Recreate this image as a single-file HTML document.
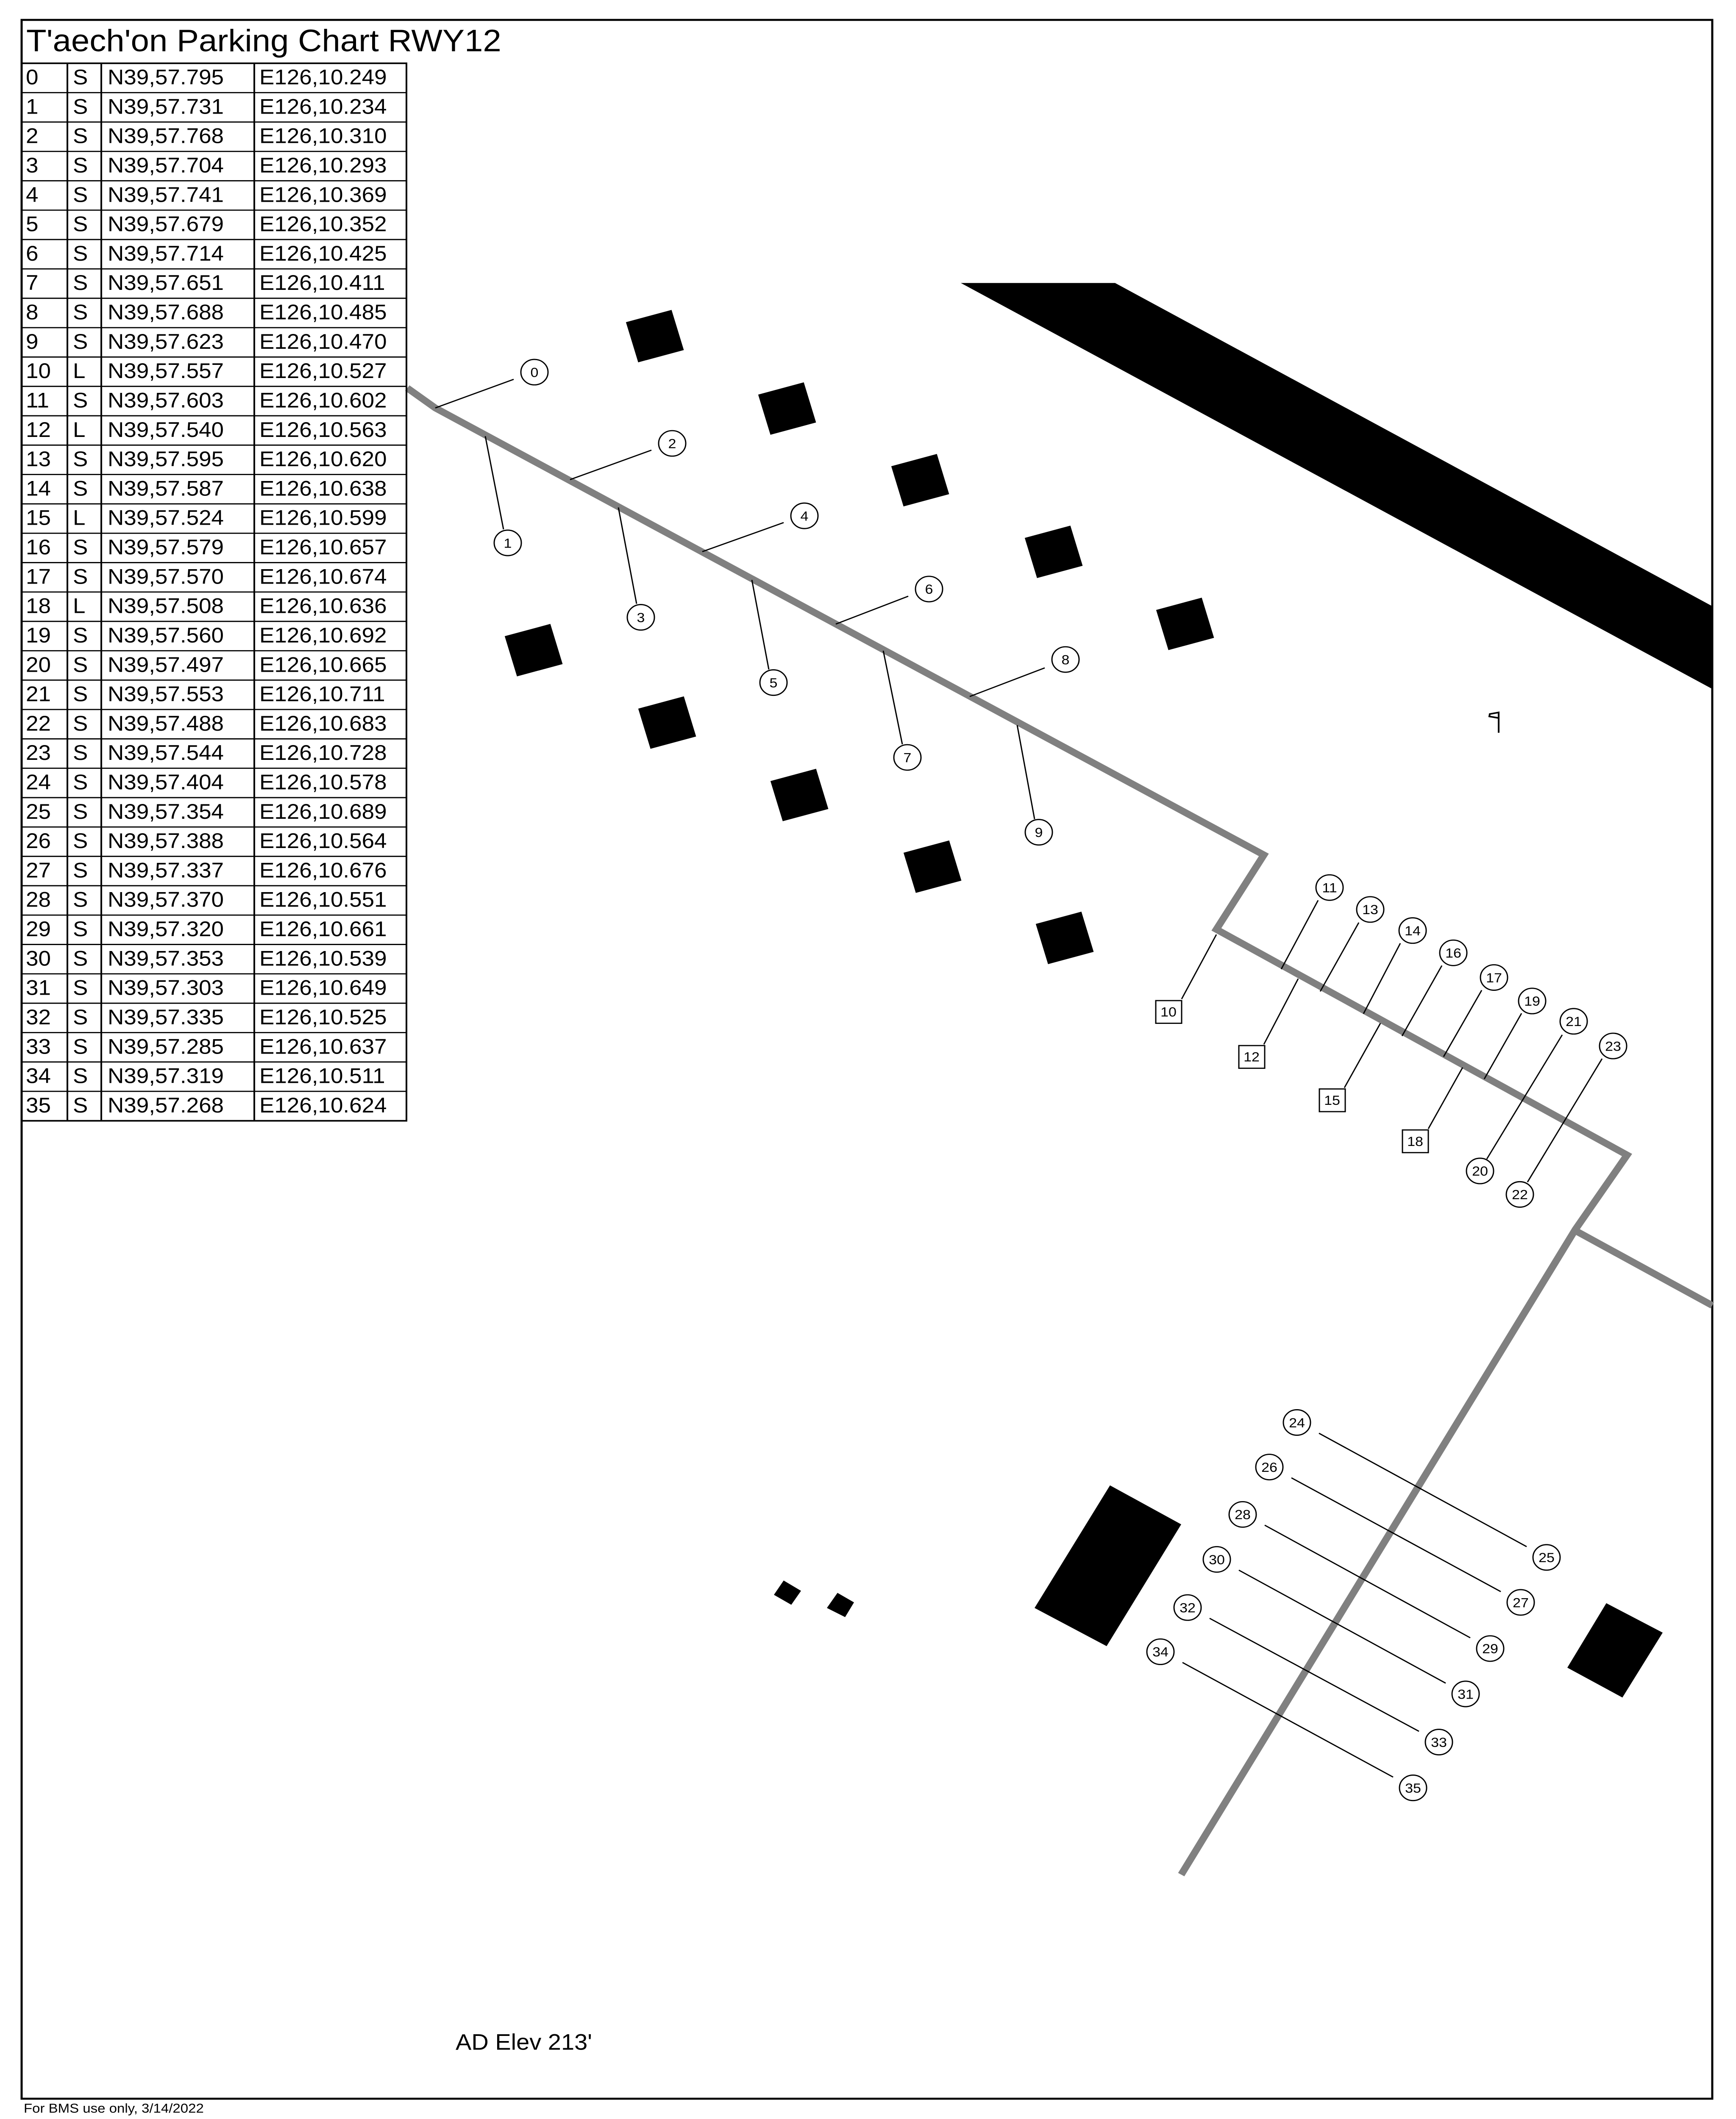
<!DOCTYPE html>
<html><head><meta charset="utf-8"><style>
html,body{margin:0;padding:0;background:#fff;width:100%;height:100%;overflow:hidden}
svg{display:block;position:absolute;left:0;top:0;width:100vw;height:100vh}
text{font-family:"Liberation Sans",sans-serif;fill:#000}
.t{font-size:53px}
.c{font-size:34px;text-anchor:middle}
</style></head><body>
<svg viewBox="0 0 4096 5324" preserveAspectRatio="none" xmlns="http://www.w3.org/2000/svg">
<rect x="51" y="50" width="3989" height="5223" fill="none" stroke="#000" stroke-width="5"/>
<text x="62" y="129" style="font-size:78px">T'aech'on Parking Chart RWY12</text>

<polygon points="2267,711 2631,711 4040,1523 4040,1731" fill="#000"/>

<polyline points="961,975 1027,1025 2982,2148 2870,2335 3839,2902 3717,3089 2787,4710" fill="none" stroke="#808080" stroke-width="17"/>
<line x1="3717" y1="3092" x2="4040" y2="3280" stroke="#808080" stroke-width="17"/>

<g fill="#000">
<rect x="-56" y="-52" width="112" height="105" transform="translate(1545,844) rotate(-16)"/>
<rect x="-56" y="-52" width="112" height="105" transform="translate(1857,1026) rotate(-16)"/>
<rect x="-56" y="-52" width="112" height="105" transform="translate(2171,1206) rotate(-16)"/>
<rect x="-56" y="-52" width="112" height="105" transform="translate(2486,1386) rotate(-16)"/>
<rect x="-56" y="-52" width="112" height="105" transform="translate(2796,1567) rotate(-16)"/>
<rect x="-56" y="-52" width="112" height="105" transform="translate(1259,1633) rotate(-16)"/>
<rect x="-56" y="-52" width="112" height="105" transform="translate(1574,1815) rotate(-16)"/>
<rect x="-56" y="-52" width="112" height="105" transform="translate(1886,1997) rotate(-16)"/>
<rect x="-56" y="-52" width="112" height="105" transform="translate(2200,2177) rotate(-16)"/>
<rect x="-56" y="-52" width="112" height="105" transform="translate(2512,2356) rotate(-16)"/>
<polygon points="2619,3732 2787,3830 2611,4136 2441,4040"/>
<polygon points="3790,4028 3923,4102 3828,4265 3698,4190"/>
<polygon points="1849,3971 1890,3997 1867,4032 1826,4007"/>
<polygon points="1976,4002 2015,4026 1994,4063 1951,4040"/>
</g>

<g stroke="#000" stroke-width="4" fill="none">
<line x1="3536" y1="1789" x2="3536" y2="1841"/>
<polygon points="3536,1790 3515,1794 3514,1800 3536,1804"/>
</g>

<g stroke="#000" stroke-width="3">
<line x1="1027" y1="1025" x2="1212" y2="953"/>
<line x1="1145" y1="1096" x2="1188" y2="1330"/>
<line x1="1345" y1="1205" x2="1537" y2="1131"/>
<line x1="1459" y1="1275" x2="1502" y2="1517"/>
<line x1="1657" y1="1386" x2="1849" y2="1313"/>
<line x1="1774" y1="1457" x2="1814" y2="1682"/>
<line x1="1972" y1="1568" x2="2143" y2="1498"/>
<line x1="2084" y1="1635" x2="2129" y2="1870"/>
<line x1="2288" y1="1750" x2="2465" y2="1678"/>
<line x1="2400" y1="1822" x2="2441" y2="2058"/>
<line x1="2788" y1="2510" x2="2870" y2="2348"/>
<line x1="2982" y1="2624" x2="3063" y2="2459"/>
<line x1="3172" y1="2733" x2="3257" y2="2571"/>
<line x1="3370" y1="2836" x2="3451" y2="2682"/>
<line x1="3110" y1="2262" x2="3023" y2="2435"/>
<line x1="3206" y1="2318" x2="3115" y2="2491"/>
<line x1="3304" y1="2370" x2="3217" y2="2547"/>
<line x1="3402" y1="2426" x2="3308" y2="2603"/>
<line x1="3496" y1="2488" x2="3406" y2="2655"/>
<line x1="3590" y1="2546" x2="3502" y2="2711"/>
<line x1="3686" y1="2600" x2="3508" y2="2912"/>
<line x1="3780" y1="2660" x2="3604" y2="2970"/>
<line x1="3112" y1="3601" x2="3602" y2="3886"/>
<line x1="3047" y1="3713" x2="3541" y2="3999"/>
<line x1="2984" y1="3832" x2="3469" y2="4115"/>
<line x1="2923" y1="3945" x2="3411" y2="4229"/>
<line x1="2854" y1="4066" x2="3348" y2="4350"/>
<line x1="2790" y1="4177" x2="3287" y2="4465"/>
</g>

<g fill="#fff" stroke="#000" stroke-width="3">
<circle cx="1261" cy="935" r="32"/><circle cx="1198" cy="1364" r="32"/>
<circle cx="1586" cy="1114" r="32"/><circle cx="1512" cy="1551" r="32"/>
<circle cx="1898" cy="1296" r="32"/><circle cx="1825" cy="1715" r="32"/>
<circle cx="2192" cy="1480" r="32"/><circle cx="2141" cy="1903" r="32"/>
<circle cx="2514" cy="1657" r="32"/><circle cx="2451" cy="2091" r="32"/>
<circle cx="3137" cy="2230" r="32"/><circle cx="3233" cy="2285" r="32"/>
<circle cx="3333" cy="2338" r="32"/><circle cx="3429" cy="2394" r="32"/>
<circle cx="3525" cy="2456" r="32"/><circle cx="3615" cy="2515" r="32"/>
<circle cx="3713" cy="2566" r="32"/><circle cx="3806" cy="2628" r="32"/>
<circle cx="3492" cy="2942" r="32"/><circle cx="3586" cy="3001" r="32"/>
<circle cx="3060" cy="3574" r="32"/><circle cx="2995" cy="3686" r="32"/>
<circle cx="2932" cy="3805" r="32"/><circle cx="2871" cy="3918" r="32"/>
<circle cx="2802" cy="4039" r="32"/><circle cx="2738" cy="4150" r="32"/>
<circle cx="3649" cy="3913" r="32"/><circle cx="3588" cy="4026" r="32"/>
<circle cx="3516" cy="4142" r="32"/><circle cx="3458" cy="4256" r="32"/>
<circle cx="3395" cy="4377" r="32"/><circle cx="3334" cy="4492" r="32"/>
<rect x="2727" y="2514" width="61" height="57"/>
<rect x="2923" y="2627" width="61" height="57"/>
<rect x="3113" y="2736" width="61" height="57"/>
<rect x="3309" y="2839" width="61" height="57"/>
</g>
<g>
<text class="c" x="1261" y="947">0</text><text class="c" x="1198" y="1376">1</text>
<text class="c" x="1586" y="1126">2</text><text class="c" x="1512" y="1563">3</text>
<text class="c" x="1898" y="1308">4</text><text class="c" x="1825" y="1727">5</text>
<text class="c" x="2192" y="1492">6</text><text class="c" x="2141" y="1915">7</text>
<text class="c" x="2514" y="1669">8</text><text class="c" x="2451" y="2103">9</text>
<text class="c" x="3137" y="2242">11</text><text class="c" x="3233" y="2297">13</text>
<text class="c" x="3333" y="2350">14</text><text class="c" x="3429" y="2406">16</text>
<text class="c" x="3525" y="2468">17</text><text class="c" x="3615" y="2527">19</text>
<text class="c" x="3713" y="2578">21</text><text class="c" x="3806" y="2640">23</text>
<text class="c" x="3492" y="2954">20</text><text class="c" x="3586" y="3013">22</text>
<text class="c" x="3060" y="3586">24</text><text class="c" x="2995" y="3698">26</text>
<text class="c" x="2932" y="3817">28</text><text class="c" x="2871" y="3930">30</text>
<text class="c" x="2802" y="4051">32</text><text class="c" x="2738" y="4162">34</text>
<text class="c" x="3649" y="3925">25</text><text class="c" x="3588" y="4038">27</text>
<text class="c" x="3516" y="4154">29</text><text class="c" x="3458" y="4268">31</text>
<text class="c" x="3395" y="4389">33</text><text class="c" x="3334" y="4504">35</text>
<text class="c" x="2757" y="2554">10</text><text class="c" x="2953" y="2667">12</text>
<text class="c" x="3143" y="2776">15</text><text class="c" x="3339" y="2879">18</text>
</g>

<g stroke="#000" stroke-width="4" fill="none">
<rect x="51" y="159" width="908" height="2657"/>
<line x1="159" y1="159" x2="159" y2="2816"/>
<line x1="239" y1="159" x2="239" y2="2816"/>
<line x1="600" y1="159" x2="600" y2="2816"/>
</g>
<g stroke="#000" stroke-width="3">
<line x1="51" y1="232.8" x2="959" y2="232.8"/><line x1="51" y1="306.6" x2="959" y2="306.6"/>
<line x1="51" y1="380.4" x2="959" y2="380.4"/><line x1="51" y1="454.2" x2="959" y2="454.2"/>
<line x1="51" y1="528" x2="959" y2="528"/><line x1="51" y1="601.8" x2="959" y2="601.8"/>
<line x1="51" y1="675.6" x2="959" y2="675.6"/><line x1="51" y1="749.4" x2="959" y2="749.4"/>
<line x1="51" y1="823.2" x2="959" y2="823.2"/><line x1="51" y1="897" x2="959" y2="897"/>
<line x1="51" y1="970.8" x2="959" y2="970.8"/><line x1="51" y1="1044.6" x2="959" y2="1044.6"/>
<line x1="51" y1="1118.4" x2="959" y2="1118.4"/><line x1="51" y1="1192.2" x2="959" y2="1192.2"/>
<line x1="51" y1="1266" x2="959" y2="1266"/><line x1="51" y1="1339.8" x2="959" y2="1339.8"/>
<line x1="51" y1="1413.6" x2="959" y2="1413.6"/><line x1="51" y1="1487.4" x2="959" y2="1487.4"/>
<line x1="51" y1="1561.2" x2="959" y2="1561.2"/><line x1="51" y1="1635" x2="959" y2="1635"/>
<line x1="51" y1="1708.8" x2="959" y2="1708.8"/><line x1="51" y1="1782.6" x2="959" y2="1782.6"/>
<line x1="51" y1="1856.4" x2="959" y2="1856.4"/><line x1="51" y1="1930.2" x2="959" y2="1930.2"/>
<line x1="51" y1="2004" x2="959" y2="2004"/><line x1="51" y1="2077.8" x2="959" y2="2077.8"/>
<line x1="51" y1="2151.6" x2="959" y2="2151.6"/><line x1="51" y1="2225.4" x2="959" y2="2225.4"/>
<line x1="51" y1="2299.2" x2="959" y2="2299.2"/><line x1="51" y1="2373" x2="959" y2="2373"/>
<line x1="51" y1="2446.8" x2="959" y2="2446.8"/><line x1="51" y1="2520.6" x2="959" y2="2520.6"/>
<line x1="51" y1="2594.4" x2="959" y2="2594.4"/><line x1="51" y1="2668.2" x2="959" y2="2668.2"/>
<line x1="51" y1="2742" x2="959" y2="2742"/>
</g>
<g>
<text class="t" y="212"><tspan x="61">0</tspan><tspan x="172">S</tspan><tspan x="254">N39,57.795</tspan><tspan x="612">E126,10.249</tspan></text>
<text class="t" y="285.8"><tspan x="61">1</tspan><tspan x="172">S</tspan><tspan x="254">N39,57.731</tspan><tspan x="612">E126,10.234</tspan></text>
<text class="t" y="359.6"><tspan x="61">2</tspan><tspan x="172">S</tspan><tspan x="254">N39,57.768</tspan><tspan x="612">E126,10.310</tspan></text>
<text class="t" y="433.4"><tspan x="61">3</tspan><tspan x="172">S</tspan><tspan x="254">N39,57.704</tspan><tspan x="612">E126,10.293</tspan></text>
<text class="t" y="507.2"><tspan x="61">4</tspan><tspan x="172">S</tspan><tspan x="254">N39,57.741</tspan><tspan x="612">E126,10.369</tspan></text>
<text class="t" y="581"><tspan x="61">5</tspan><tspan x="172">S</tspan><tspan x="254">N39,57.679</tspan><tspan x="612">E126,10.352</tspan></text>
<text class="t" y="654.8"><tspan x="61">6</tspan><tspan x="172">S</tspan><tspan x="254">N39,57.714</tspan><tspan x="612">E126,10.425</tspan></text>
<text class="t" y="728.6"><tspan x="61">7</tspan><tspan x="172">S</tspan><tspan x="254">N39,57.651</tspan><tspan x="612">E126,10.411</tspan></text>
<text class="t" y="802.4"><tspan x="61">8</tspan><tspan x="172">S</tspan><tspan x="254">N39,57.688</tspan><tspan x="612">E126,10.485</tspan></text>
<text class="t" y="876.2"><tspan x="61">9</tspan><tspan x="172">S</tspan><tspan x="254">N39,57.623</tspan><tspan x="612">E126,10.470</tspan></text>
<text class="t" y="950"><tspan x="61">10</tspan><tspan x="172">L</tspan><tspan x="254">N39,57.557</tspan><tspan x="612">E126,10.527</tspan></text>
<text class="t" y="1023.8"><tspan x="61">11</tspan><tspan x="172">S</tspan><tspan x="254">N39,57.603</tspan><tspan x="612">E126,10.602</tspan></text>
<text class="t" y="1097.6"><tspan x="61">12</tspan><tspan x="172">L</tspan><tspan x="254">N39,57.540</tspan><tspan x="612">E126,10.563</tspan></text>
<text class="t" y="1171.4"><tspan x="61">13</tspan><tspan x="172">S</tspan><tspan x="254">N39,57.595</tspan><tspan x="612">E126,10.620</tspan></text>
<text class="t" y="1245.2"><tspan x="61">14</tspan><tspan x="172">S</tspan><tspan x="254">N39,57.587</tspan><tspan x="612">E126,10.638</tspan></text>
<text class="t" y="1319"><tspan x="61">15</tspan><tspan x="172">L</tspan><tspan x="254">N39,57.524</tspan><tspan x="612">E126,10.599</tspan></text>
<text class="t" y="1392.8"><tspan x="61">16</tspan><tspan x="172">S</tspan><tspan x="254">N39,57.579</tspan><tspan x="612">E126,10.657</tspan></text>
<text class="t" y="1466.6"><tspan x="61">17</tspan><tspan x="172">S</tspan><tspan x="254">N39,57.570</tspan><tspan x="612">E126,10.674</tspan></text>
<text class="t" y="1540.4"><tspan x="61">18</tspan><tspan x="172">L</tspan><tspan x="254">N39,57.508</tspan><tspan x="612">E126,10.636</tspan></text>
<text class="t" y="1614.2"><tspan x="61">19</tspan><tspan x="172">S</tspan><tspan x="254">N39,57.560</tspan><tspan x="612">E126,10.692</tspan></text>
<text class="t" y="1688"><tspan x="61">20</tspan><tspan x="172">S</tspan><tspan x="254">N39,57.497</tspan><tspan x="612">E126,10.665</tspan></text>
<text class="t" y="1761.8"><tspan x="61">21</tspan><tspan x="172">S</tspan><tspan x="254">N39,57.553</tspan><tspan x="612">E126,10.711</tspan></text>
<text class="t" y="1835.6"><tspan x="61">22</tspan><tspan x="172">S</tspan><tspan x="254">N39,57.488</tspan><tspan x="612">E126,10.683</tspan></text>
<text class="t" y="1909.4"><tspan x="61">23</tspan><tspan x="172">S</tspan><tspan x="254">N39,57.544</tspan><tspan x="612">E126,10.728</tspan></text>
<text class="t" y="1983.2"><tspan x="61">24</tspan><tspan x="172">S</tspan><tspan x="254">N39,57.404</tspan><tspan x="612">E126,10.578</tspan></text>
<text class="t" y="2057"><tspan x="61">25</tspan><tspan x="172">S</tspan><tspan x="254">N39,57.354</tspan><tspan x="612">E126,10.689</tspan></text>
<text class="t" y="2130.8"><tspan x="61">26</tspan><tspan x="172">S</tspan><tspan x="254">N39,57.388</tspan><tspan x="612">E126,10.564</tspan></text>
<text class="t" y="2204.6"><tspan x="61">27</tspan><tspan x="172">S</tspan><tspan x="254">N39,57.337</tspan><tspan x="612">E126,10.676</tspan></text>
<text class="t" y="2278.4"><tspan x="61">28</tspan><tspan x="172">S</tspan><tspan x="254">N39,57.370</tspan><tspan x="612">E126,10.551</tspan></text>
<text class="t" y="2352.2"><tspan x="61">29</tspan><tspan x="172">S</tspan><tspan x="254">N39,57.320</tspan><tspan x="612">E126,10.661</tspan></text>
<text class="t" y="2426"><tspan x="61">30</tspan><tspan x="172">S</tspan><tspan x="254">N39,57.353</tspan><tspan x="612">E126,10.539</tspan></text>
<text class="t" y="2499.8"><tspan x="61">31</tspan><tspan x="172">S</tspan><tspan x="254">N39,57.303</tspan><tspan x="612">E126,10.649</tspan></text>
<text class="t" y="2573.6"><tspan x="61">32</tspan><tspan x="172">S</tspan><tspan x="254">N39,57.335</tspan><tspan x="612">E126,10.525</tspan></text>
<text class="t" y="2647.4"><tspan x="61">33</tspan><tspan x="172">S</tspan><tspan x="254">N39,57.285</tspan><tspan x="612">E126,10.637</tspan></text>
<text class="t" y="2721.2"><tspan x="61">34</tspan><tspan x="172">S</tspan><tspan x="254">N39,57.319</tspan><tspan x="612">E126,10.511</tspan></text>
<text class="t" y="2795"><tspan x="61">35</tspan><tspan x="172">S</tspan><tspan x="254">N39,57.268</tspan><tspan x="612">E126,10.624</tspan></text>
</g>

<text x="1075" y="5150" style="font-size:56px">AD Elev 213'</text>
<text x="56" y="5308" style="font-size:33px">For BMS  use only, 3/14/2022</text>
</svg>
</body></html>
